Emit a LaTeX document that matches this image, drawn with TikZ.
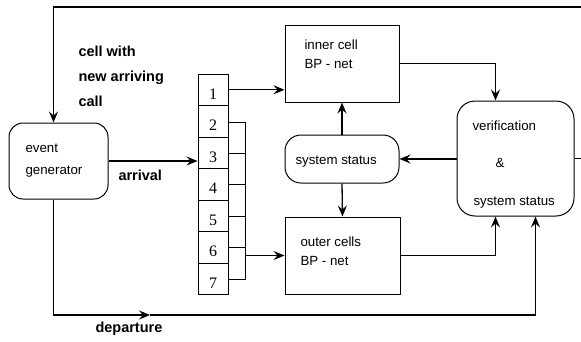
\documentclass[tikz,border=0pt]{standalone}
\usepackage{fontspec}
\setmainfont{Liberation Sans}
\newfontfamily\numfont{Liberation Serif}
\usetikzlibrary{arrows.meta}
\begin{document}
\begin{tikzpicture}[x=1pt,y=-1pt,
  line width=1pt,
  >={Stealth[length=11pt,width=9pt,inset=4pt]},
  conn/.style={line width=1.3pt},
  box/.style={draw,rectangle,inner sep=0pt},
  rbox/.style={draw,rectangle,rounded corners=14pt,inner sep=0pt},
  txt/.style={anchor=base west,inner sep=0pt,font=\fontsize{13.3}{16}\selectfont},
  btxt/.style={anchor=base west,inner sep=0pt,font=\fontsize{14.5}{17}\selectfont\bfseries},
  cellbox/.style={box,minimum width=30pt,minimum height=31.57pt},
  sidebox/.style={box,minimum width=17pt,minimum height=31.4pt},
  num/.style={anchor=base,inner sep=0pt,font=\numfont\fontsize{16}{18}\selectfont}]
\useasboundingbox (0,0) rectangle (581,341);
\clip (0,0) rectangle (581,341);

% main blocks
\node[rbox,minimum width=99pt,minimum height=76pt] (eg) at (58.5,161) {};
\node[box,minimum width=114pt,minimum height=77pt] (inner) at (342,63.5) {};
\node[rbox,rounded corners=16pt,minimum width=114pt,minimum height=48pt] (status) at (342,159) {};
\node[box,minimum width=115pt,minimum height=77pt] (outer) at (342.5,255.5) {};
\node[rbox,rounded corners=18pt,minimum width=117pt,minimum height=115pt] (verif) at (515.5,158.5) {};

% cell queue with its side bracket
\foreach \i in {1,...,7}
  \node[cellbox] (c\i) at (213,{74+31.57*(\i-0.5)}) {};
\foreach \i in {1,...,5}
  \node[sidebox] (s\i) at (236.5,{122+31.4*(\i-0.5)}) {};
\foreach \i in {1,...,7}
  \node[num] (n\i) at ([yshift=7pt]c\i.south) {\i};

% texts
\node[btxt] (lab1) at (78,56) {cell with};
\node[btxt] (lab2) at (78,81) {new arriving};
\node[btxt] (lab3) at (78,106) {call};
\node[txt] (egt1) at (25,152) {event};
\node[txt] (egt2) at (25,174) {generator};
\node[btxt] (arr) at (118,180) {arrival};
\node[btxt] (dep) at (95,332) {departure};
\node[txt] (int1) at (304,49) {inner cell};
\node[txt] (int2) at (304,68) {BP - net};
\node[txt] (sst) at (295,164) {system status};
\node[txt] (vt1) at (472,130) {verification};
\node[txt] (vt2) at (495,167) {\&};
\node[txt] (vt3) at (473,205) {system status};
\node[txt] (out1) at (300,246) {outer cells};
\node[txt] (out2) at (300,265) {BP - net};

% connectors
\begin{scope}[conn]
\draw[->] (eg.east) -- (eg.east -| c3.west);
\draw[->] (c1.east) -- (c1.east -| inner.west);
\draw[->] (s5.east |- outer.west) -- (outer.west);
\draw[->] (status.north) -- (inner.south);
\draw[->] (status.south) -- (outer.north);
\draw[->] (status.east -| verif.west) -- (status.east);
\draw[->] (inner.east) -| ([xshift=-20pt]verif.north);
\draw[->] (outer.east) -| ([xshift=-20pt]verif.south);
\coordinate (depmid) at (150,315);
\draw[->] ([xshift=-5pt]eg.south) |- (depmid);
\draw[->] (depmid) -| ([xshift=20pt]verif.south);
\draw[->] (verif.east) -| (600,7) -| ([xshift=-5pt]eg.north);
\end{scope}
\end{tikzpicture}
\end{document}
